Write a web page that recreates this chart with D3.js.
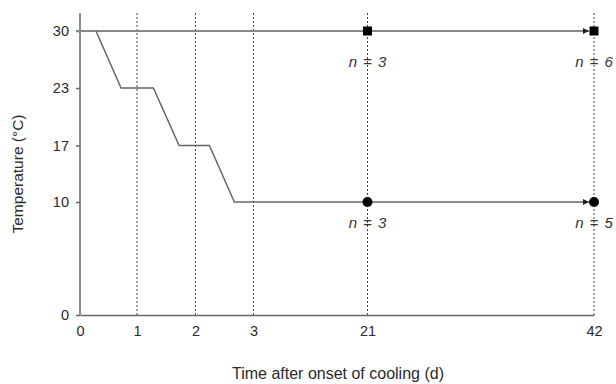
<!DOCTYPE html>
<html>
<head>
<meta charset="utf-8">
<script src="https://cdn.jsdelivr.net/npm/d3@7"></script>
<style>
  body { margin: 0; background: #fff; }
  svg text { font-family: "Liberation Sans", Arial, sans-serif; fill: #2a2a2a; }
</style>
</head>
<body>
<div id="chart"></div>
<script>
// x axis is broken: days 0-3 then 21 and 42
const xTicks = [0, 1, 2, 3, 21, 42];
const yTicks = [0, 10, 17, 23, 30];
const guideDays = [1, 2, 3, 21, 42];

// control group stays at 30 °C
const controlDays = [0, 42];
const controlTemps = [30, 30];

// stepwise cooling to 10 °C
const coolDays = [0.28, 0.72, 1.28, 1.72, 2.24, 2.67, 42];
const coolTemps = [30, 23, 23, 17, 17, 10, 10];

// sampling points
const sampleDays = [21, 42];
const controlN = [3, 6];
const coolN = [3, 5];

const width = 616;
const height = 384;

const x = d3.scaleLinear()
  .domain(xTicks)
  .range([80, 137, 195.5, 253.5, 367.5, 594]);

const y = d3.scaleLinear()
  .domain(yTicks)
  .range([315, 202, 145.5, 88, 31]);

const svg = d3.select('#chart')
  .append('svg')
    .attr('width', width)
    .attr('height', height);

svg.append('defs').append('marker')
    .attr('id', 'arrow')
    .attr('viewBox', '0 0 10 10')
    .attr('refX', 10)
    .attr('refY', 5)
    .attr('markerWidth', 9)
    .attr('markerHeight', 6)
    .attr('markerUnits', 'userSpaceOnUse')
    .attr('orient', 'auto')
  .append('path')
    .attr('d', 'M0,0L10,5L0,10Z')
    .attr('fill', '#222');

// vertical dashed guides
svg.append('g')
  .selectAll('line')
  .data(guideDays)
  .join('line')
    .attr('x1', d => x(d))
    .attr('x2', d => x(d))
    .attr('y1', 13)
    .attr('y2', y(0))
    .attr('stroke', '#444')
    .attr('stroke-width', 1)
    .attr('stroke-dasharray', '2,2');

// axes
const yAxis = svg.append('g')
  .attr('transform', `translate(${x(0)},0)`)
  .call(d3.axisLeft(y).tickValues(yTicks).tickSize(4).tickPadding(7));
yAxis.select('.domain').attr('d', `M0,13V${y(0)}`);

const xAxis = svg.append('g')
  .attr('transform', `translate(0,${y(0)})`)
  .call(d3.axisBottom(x).tickValues(xTicks).tickSize(0).tickPadding(11));

[yAxis, xAxis].forEach(g => {
  g.select('.domain').attr('stroke', '#666').attr('stroke-width', 1.5);
  g.selectAll('.tick line').attr('stroke', '#666').attr('stroke-width', 1.5);
  g.selectAll('.tick text')
    .style('font-size', '14.5px')
    .style('fill', '#2a2a2a')
    .style('font-family', '"Liberation Sans", Arial, sans-serif');
});

const line = d3.line()
  .x(d => x(d[0]))
  .y(d => y(d[1]));

const endGap = 5;

// control line
const ctrlPts = controlDays.map((d, i) => [d, controlTemps[i]]);
svg.append('path')
  .attr('fill', 'none')
  .attr('stroke', '#888')
  .attr('stroke-width', 2)
  .attr('d', () => {
    const p = d3.path();
    p.moveTo(x(ctrlPts[0][0]) - 4, y(ctrlPts[0][1]));
    p.lineTo(x(ctrlPts[1][0]) - endGap, y(ctrlPts[1][1]));
    return p.toString();
  })
  .attr('marker-end', 'url(#arrow)');

// cooling line
const coolPts = coolDays.map((d, i) => [d, coolTemps[i]]);
const coolDrawn = coolPts.map((p, i) => i === coolPts.length - 1
  ? [x.invert(x(p[0]) - endGap), p[1]] : p);
svg.append('path')
  .attr('d', line(coolDrawn))
  .attr('fill', 'none')
  .attr('stroke', '#666')
  .attr('stroke-width', 1.5)
  .attr('marker-end', 'url(#arrow)');

// markers
svg.append('g')
  .selectAll('rect')
  .data(sampleDays)
  .join('rect')
    .attr('x', d => x(d) - 4.5)
    .attr('y', y(30) - 4.5)
    .attr('width', 9)
    .attr('height', 9)
    .attr('fill', '#000');

svg.append('g')
  .selectAll('circle')
  .data(sampleDays)
  .join('circle')
    .attr('cx', d => x(d))
    .attr('cy', y(10))
    .attr('r', 5)
    .attr('fill', '#000');

// n labels
function nLabel(g, nValues, temp, offset) {
  const t = g.append('g')
    .selectAll('text')
    .data(sampleDays)
    .join('text')
      .attr('x', d => x(d))
      .attr('y', y(temp) + offset)
      .attr('text-anchor', 'middle')
      .style('font-size', '15px')
      .style('font-style', 'italic')
      .style('fill', '#333');
  t.append('tspan').text('n');
  t.append('tspan').attr('dx', 6).text('=');
  t.append('tspan').attr('dx', 6).text((d, i) => nValues[i]);
}
nLabel(svg, controlN, 30, 36);
nLabel(svg, coolN, 10, 26);

// axis titles
svg.append('text')
  .attr('transform', `translate(23,174) rotate(-90)`)
  .attr('text-anchor', 'middle')
  .style('font-size', '15.5px')
  .text('Temperature (°C)');

svg.append('text')
  .attr('x', 338)
  .attr('y', 379)
  .attr('text-anchor', 'middle')
  .style('font-size', '16px')
  .text('Time after onset of cooling (d)');
</script>
</body>
</html>
